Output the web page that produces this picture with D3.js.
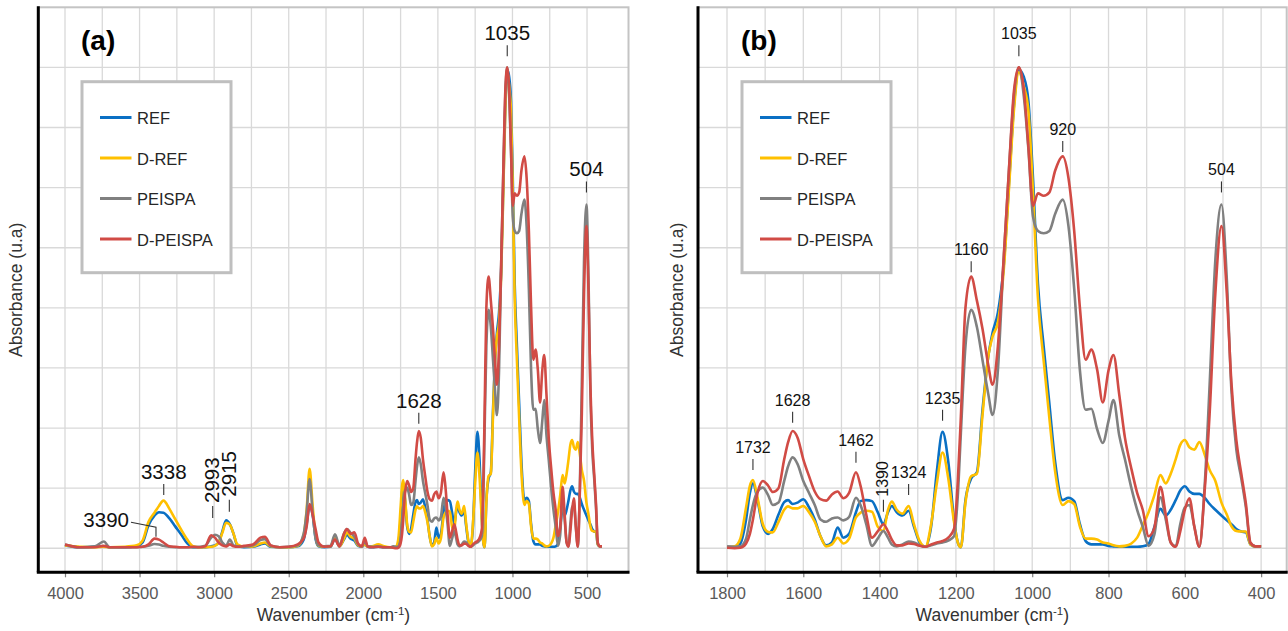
<!DOCTYPE html>
<html>
<head>
<meta charset="utf-8">
<script src="https://cdn.jsdelivr.net/npm/d3@7"></script>
<style>
  body { margin: 0; background: #fff; }
  svg text { font-family: "Liberation Sans", Arial, sans-serif; }
</style>
</head>
<body>
<svg id="chart" width="1288" height="631"></svg>
<script>
// Shared wavenumber grid (cm-1), high to low
const wavenumbers = [
  4000, 3900, 3800, 3740, 3700, 3600, 3520, 3480, 3440, 3400,
  3370, 3340, 3300, 3260, 3220, 3180, 3140, 3100, 3060, 3020,
  2995, 2970, 2945, 2920, 2895, 2870, 2845, 2800, 2740, 2690,
  2660, 2620, 2560, 2500, 2440, 2400, 2380, 2360, 2340, 2320,
  2300, 2260, 2220, 2190, 2160, 2130, 2110, 2085, 2060, 2035,
  2010, 1990, 1970, 1940, 1900, 1860, 1820,
  1800, 1780, 1765, 1750, 1740, 1732, 1720, 1706, 1692, 1680,
  1665, 1650, 1640, 1628, 1615, 1600, 1585, 1570, 1555, 1540,
  1525, 1510, 1495, 1480, 1462, 1450, 1435, 1420, 1405, 1390,
  1378, 1368, 1355, 1340, 1324, 1310, 1295, 1280, 1265, 1250,
  1235, 1220, 1205, 1195, 1187, 1175, 1160, 1145, 1130, 1115,
  1104, 1090, 1075, 1060, 1048, 1035, 1022, 1010, 998, 985,
  970, 955, 940, 920, 905, 890, 875, 860, 845, 830,
  815, 800, 787, 772, 757, 740, 725, 710, 695, 680,
  664, 650, 637, 624, 612, 600, 588, 575, 562, 548,
  535, 520, 504, 490, 478, 465, 452, 440, 428, 415,
  400
];

// Normalised absorbance of each sample
const ref = [
  0.006, 0.002, 0.003, 0.004, 0.002, 0.002, 0.004, 0.012, 0.048, 0.068,
  0.075, 0.074, 0.062, 0.045, 0.028, 0.010, 0.002, 0.002, 0.002, 0.004,
  0.006, 0.012, 0.035, 0.058, 0.050, 0.030, 0.006, 0.002, 0.003, 0.008,
  0.010, 0.003, 0.002, 0.002, 0.004, 0.018, 0.050, 0.088, 0.070, 0.020,
  0.004, 0.002, 0.003, 0.020, 0.004, 0.018, 0.028, 0.020, 0.016, 0.005,
  0.003, 0.008, 0.003, 0.002, 0.003, 0.002, 0.002,
  0.002, 0.002, 0.010, 0.060, 0.115, 0.135, 0.100, 0.045, 0.030, 0.040,
  0.070, 0.096, 0.100, 0.092, 0.095, 0.102, 0.085, 0.060, 0.025, 0.006,
  0.012, 0.043, 0.022, 0.030, 0.075, 0.098, 0.100, 0.098, 0.075, 0.050,
  0.075, 0.088, 0.075, 0.068, 0.078, 0.045, 0.012, 0.003, 0.045, 0.160,
  0.242, 0.180, 0.060, 0.012, 0.002, 0.100, 0.145, 0.158, 0.290, 0.400,
  0.448, 0.490, 0.585, 0.770, 0.920, 0.995, 0.980, 0.930, 0.770, 0.550,
  0.420, 0.300, 0.180, 0.100, 0.105, 0.098, 0.050, 0.015, 0.008, 0.008,
  0.008, 0.005, 0.004, 0.003, 0.003, 0.003, 0.003, 0.004, 0.009, 0.044,
  0.082, 0.068, 0.080, 0.100, 0.120, 0.129, 0.118, 0.113, 0.113, 0.105,
  0.092, 0.080, 0.068, 0.058, 0.050, 0.040, 0.035, 0.033, 0.008, 0.004,
  0.004
];
const dRef = [
  0.006, 0.003, 0.002, 0.003, 0.002, 0.003, 0.006, 0.016, 0.055, 0.074,
  0.088, 0.099, 0.082, 0.060, 0.038, 0.018, 0.004, 0.002, 0.002, 0.003,
  0.005, 0.012, 0.032, 0.053, 0.049, 0.030, 0.008, 0.003, 0.004, 0.010,
  0.012, 0.004, 0.002, 0.002, 0.005, 0.028, 0.080, 0.165, 0.090, 0.025,
  0.005, 0.003, 0.004, 0.024, 0.004, 0.020, 0.033, 0.024, 0.020, 0.006,
  0.004, 0.008, 0.003, 0.004, 0.008, 0.004, 0.002,
  0.002, 0.004, 0.020, 0.085, 0.130, 0.142, 0.105, 0.050, 0.034, 0.033,
  0.055, 0.080, 0.087, 0.083, 0.083, 0.088, 0.075, 0.055, 0.025, 0.004,
  0.008, 0.022, 0.010, 0.020, 0.064, 0.074, 0.078, 0.076, 0.045, 0.036,
  0.080, 0.097, 0.080, 0.072, 0.088, 0.050, 0.015, 0.003, 0.050, 0.135,
  0.199, 0.145, 0.055, 0.012, 0.002, 0.095, 0.150, 0.155, 0.280, 0.400,
  0.440, 0.470, 0.575, 0.760, 0.910, 0.990, 0.960, 0.910, 0.740, 0.520,
  0.390, 0.270, 0.160, 0.090, 0.098, 0.092, 0.045, 0.020, 0.020, 0.018,
  0.012, 0.010, 0.006, 0.004, 0.005, 0.010, 0.022, 0.048, 0.075, 0.110,
  0.152, 0.135, 0.155, 0.185, 0.215, 0.225, 0.210, 0.205, 0.221, 0.195,
  0.163, 0.140, 0.095, 0.070, 0.046, 0.036, 0.035, 0.035, 0.008, 0.004,
  0.004
];
const peispa = [
  0.008, 0.002, 0.004, 0.014, 0.002, 0.002, 0.002, 0.003, 0.005, 0.009,
  0.008, 0.005, 0.003, 0.002, 0.002, 0.002, 0.002, 0.003, 0.005, 0.022,
  0.028, 0.025, 0.012, 0.005, 0.018, 0.006, 0.004, 0.003, 0.006, 0.017,
  0.019, 0.005, 0.002, 0.003, 0.006, 0.030, 0.075, 0.144, 0.075, 0.022,
  0.006, 0.004, 0.005, 0.029, 0.006, 0.030, 0.040, 0.032, 0.024, 0.008,
  0.004, 0.014, 0.004, 0.003, 0.004, 0.002, 0.002,
  0.004, 0.003, 0.004, 0.020, 0.060, 0.090, 0.118, 0.126, 0.110, 0.090,
  0.095, 0.140, 0.170, 0.189, 0.175, 0.140, 0.115, 0.090, 0.060, 0.055,
  0.062, 0.064, 0.058, 0.065, 0.105, 0.090, 0.050, 0.005, 0.020, 0.036,
  0.022, 0.008, 0.004, 0.008, 0.014, 0.012, 0.006, 0.003, 0.006, 0.010,
  0.012, 0.016, 0.025, 0.110, 0.240, 0.420, 0.496, 0.460, 0.390, 0.320,
  0.277, 0.370, 0.600, 0.800, 0.940, 1.000, 0.940, 0.830, 0.690, 0.660,
  0.655, 0.660, 0.695, 0.725, 0.670, 0.540, 0.370, 0.288, 0.290, 0.248,
  0.219, 0.265, 0.308, 0.235, 0.185, 0.125, 0.080, 0.044, 0.005, 0.028,
  0.106, 0.060, 0.012, 0.004, 0.050, 0.085, 0.090, 0.045, 0.003, 0.130,
  0.340, 0.600, 0.715, 0.560, 0.330, 0.205, 0.145, 0.085, 0.010, 0.004,
  0.004
];
const dPeispa = [
  0.008, 0.002, 0.002, 0.005, 0.002, 0.002, 0.002, 0.003, 0.008, 0.020,
  0.018, 0.012, 0.004, 0.003, 0.002, 0.002, 0.003, 0.002, 0.004, 0.027,
  0.022, 0.012, 0.006, 0.004, 0.008, 0.004, 0.003, 0.005, 0.008, 0.022,
  0.024, 0.006, 0.002, 0.003, 0.008, 0.020, 0.045, 0.092, 0.070, 0.040,
  0.012, 0.003, 0.004, 0.018, 0.004, 0.030, 0.040, 0.030, 0.033, 0.010,
  0.004, 0.022, 0.003, 0.002, 0.003, 0.002, 0.002,
  0.001, 0.000, 0.001, 0.010, 0.030, 0.060, 0.115, 0.140, 0.130, 0.117,
  0.125, 0.185, 0.220, 0.244, 0.230, 0.185, 0.150, 0.118, 0.102, 0.099,
  0.112, 0.118, 0.104, 0.115, 0.158, 0.130, 0.070, 0.022, 0.035, 0.050,
  0.035, 0.018, 0.006, 0.006, 0.010, 0.009, 0.005, 0.003, 0.008, 0.012,
  0.015, 0.022, 0.040, 0.140, 0.274, 0.500, 0.565, 0.515, 0.455, 0.380,
  0.340, 0.420, 0.600, 0.800, 0.950, 1.000, 0.955, 0.835, 0.712, 0.738,
  0.733, 0.740, 0.785, 0.815, 0.770, 0.660, 0.500, 0.392, 0.413, 0.372,
  0.303, 0.370, 0.402, 0.320, 0.230, 0.165, 0.115, 0.079, 0.025, 0.042,
  0.128, 0.070, 0.012, 0.003, 0.035, 0.080, 0.104, 0.044, 0.003, 0.120,
  0.280, 0.530, 0.670, 0.530, 0.345, 0.225, 0.155, 0.093, 0.012, 0.004,
  0.004
];

const seriesNames = ["REF", "D-REF", "PEISPA", "D-PEISPA"];
const seriesValues = [ref, dRef, peispa, dPeispa];
const seriesColors = ["#0A70C4", "#FFC000", "#808080", "#D14B45"];

const ticksA = [4000, 3500, 3000, 2500, 2000, 1500, 1000, 500];
const ticksB = [1800, 1600, 1400, 1200, 1000, 800, 600, 400];

// Band labels: wavenumber and the absorbance level where the marker stands
const bandsA = [[1035, 1.023], [504, 0.740], [1628, 0.259], [3338, 0.111], [3390, 0.024], [2993, 0.063], [2915, 0.076]];
const bandsB = [[1035, 1.023], [920, 0.824], [504, 0.740], [1160, 0.574], [1628, 0.261], [1732, 0.163], [1462, 0.178], [1390, 0.076], [1324, 0.111], [1235, 0.265]];
const verticalBands = [2993, 2915, 1390];
const leaderBands = [3390];
// small sideways nudges so neighbouring rotated labels do not collide
const labelNudge = { 2993: -2.5, 2915: 2.5 };

const svg = d3.select("#chart");
const y = d3.scaleLinear().domain([-0.05, 1.125]).range([572.3, 7.3]);

const rows = wavenumbers.map((wn, i) => ({ wn, v: seriesValues.map(s => s[i]) }));

const panels = [
  { id: "a", x: d3.scaleLinear().domain([4179, 222]).range([38.3, 628.5]), ticks: ticksA,
    grid: d3.range(500, 4001, 250), maxWn: 4000, bands: bandsA, font: 20.5, tickLen: 11, gap: 5,
    legendX: 82, titleX: 16 },
  { id: "b", x: d3.scaleLinear().domain([1876, 333]).range([698, 1286.7]), ticks: ticksB,
    grid: d3.range(400, 1801, 100), maxWn: 1800, bands: bandsB, font: 16, tickLen: 11, gap: 6,
    legendX: 742, titleX: 677 }
];

panels.forEach(p => {
  const g = svg.append("g");
  const [x0, x1] = p.x.range();
  const [yb, yt] = y.range();

  // gridlines
  g.append("g").selectAll("line").data(d3.range(0, 9).map(k => k * 0.125)).join("line")
    .attr("x1", x0).attr("x2", x1).attr("y1", d => y(d)).attr("y2", d => y(d))
    .attr("stroke", "#d9d9d9").attr("stroke-width", 1.3);
  g.append("g").selectAll("line").data(p.grid).join("line")
    .attr("x1", d => p.x(d)).attr("x2", d => p.x(d)).attr("y1", yt).attr("y2", yb)
    .attr("stroke", "#d9d9d9").attr("stroke-width", 1.3);

  // plot frame (top and right edges)
  g.append("rect").attr("x", x0).attr("y", yt).attr("width", x1 - x0).attr("height", yb - yt)
    .attr("fill", "none").attr("stroke", "#c4c4c4").attr("stroke-width", 2);

  // spectra
  const data = rows.filter(r => r.wn <= p.maxWn);
  seriesNames.forEach((name, si) => {
    const line = d3.line().x(d => p.x(d.wn)).y(d => y(d.v[si])).curve(d3.curveMonotoneX);
    g.append("path").datum(data).attr("d", line)
      .attr("fill", "none").attr("stroke", seriesColors[si]).attr("stroke-width", 2.6)
      .attr("stroke-linejoin", "round");
  });

  // x axis
  const axis = d3.axisBottom(p.x).tickValues(p.ticks).tickFormat(d3.format("d"))
    .tickSize(5).tickSizeOuter(0).tickPadding(10);
  const ax = g.append("g").attr("transform", `translate(0,${yb})`).call(axis);
  ax.select(".domain").remove();
  ax.selectAll(".tick line").attr("stroke", "#7f7f7f").attr("stroke-width", 1.2);
  ax.selectAll(".tick text").attr("font-size", 16.5).attr("fill", "#595959")
    .style("font-family", '"Liberation Sans", Arial, sans-serif');
  g.append("line").attr("x1", x0 - 1.5).attr("x2", x1 + 1).attr("y1", yb).attr("y2", yb)
    .attr("stroke", "#000").attr("stroke-width", 3);
  g.append("line").attr("x1", x0).attr("x2", x0).attr("y1", yt - 1).attr("y2", yb)
    .attr("stroke", "#000").attr("stroke-width", 3);

  // axis titles
  const xt = g.append("text").attr("x", (x0 + x1) / 2).attr("y", 621).attr("text-anchor", "middle")
    .attr("font-size", 17.5).attr("fill", "#333");
  xt.append("tspan").text("Wavenumber (cm");
  xt.append("tspan").text("-1").attr("font-size", 11.5).attr("dy", -6.5);
  xt.append("tspan").text(")").attr("dy", 6.5);
  g.append("text").attr("transform", `translate(${p.titleX},${(yt + yb) / 2}) rotate(-90)`)
    .attr("text-anchor", "middle").attr("dominant-baseline", "central")
    .attr("font-size", 17.5).attr("fill", "#333").text("Absorbance (u.a)");

  // panel tag
  g.append("text").attr("x", p.legendX - 1).attr("y", 49.5).attr("font-size", 28)
    .attr("font-weight", "bold").attr("fill", "#000").text(`(${p.id})`);

  // legend
  const lg = g.append("g");
  lg.append("rect").attr("x", p.legendX).attr("y", 81.7).attr("width", 149).attr("height", 191)
    .attr("fill", "#fff").attr("stroke", "#bfbfbf").attr("stroke-width", 3);
  seriesNames.forEach((name, si) => {
    const by = 124 + si * 40.5;
    lg.append("line").attr("x1", p.legendX + 18).attr("x2", p.legendX + 49.5)
      .attr("y1", by - 6.5).attr("y2", by - 6.5)
      .attr("stroke", seriesColors[si]).attr("stroke-width", 3);
    lg.append("text").attr("x", p.legendX + 55).attr("y", by).attr("font-size", 16.5)
      .attr("fill", "#262626").text(name);
  });

  // band labels
  const bg = g.append("g");
  p.bands.forEach(([wn, level]) => {
    const bx = p.x(wn) + (labelNudge[wn] || 0);
    const by = y(level);
    if (leaderBands.includes(wn)) {
      bg.append("path").attr("d", `M${bx - 25},${by - 14.5}L${bx},${by - 9.5}L${bx},${by}`)
        .attr("fill", "none").attr("stroke", "#333").attr("stroke-width", 1.1);
      bg.append("text").attr("x", bx - 27).attr("y", by - 10).attr("text-anchor", "end")
        .attr("font-size", p.font).attr("fill", "#111").text(String(wn));
    } else if (verticalBands.includes(wn)) {
      const len = p.tickLen + 1;
      bg.append("line").attr("x1", bx).attr("x2", bx).attr("y1", by).attr("y2", by - len)
        .attr("stroke", "#333").attr("stroke-width", 1.1);
      bg.append("text").attr("transform", `translate(${bx - 1},${by - len - 3}) rotate(-90)`)
        .attr("dominant-baseline", "central").attr("font-size", p.font).attr("fill", "#111")
        .text(String(wn));
    } else {
      bg.append("line").attr("x1", bx).attr("x2", bx).attr("y1", by).attr("y2", by - p.tickLen)
        .attr("stroke", "#333").attr("stroke-width", 1.1);
      bg.append("text").attr("x", bx).attr("y", by - p.tickLen - p.gap).attr("text-anchor", "middle")
        .attr("font-size", p.font).attr("fill", "#111").text(String(wn));
    }
  });
});
</script>
</body>
</html>
